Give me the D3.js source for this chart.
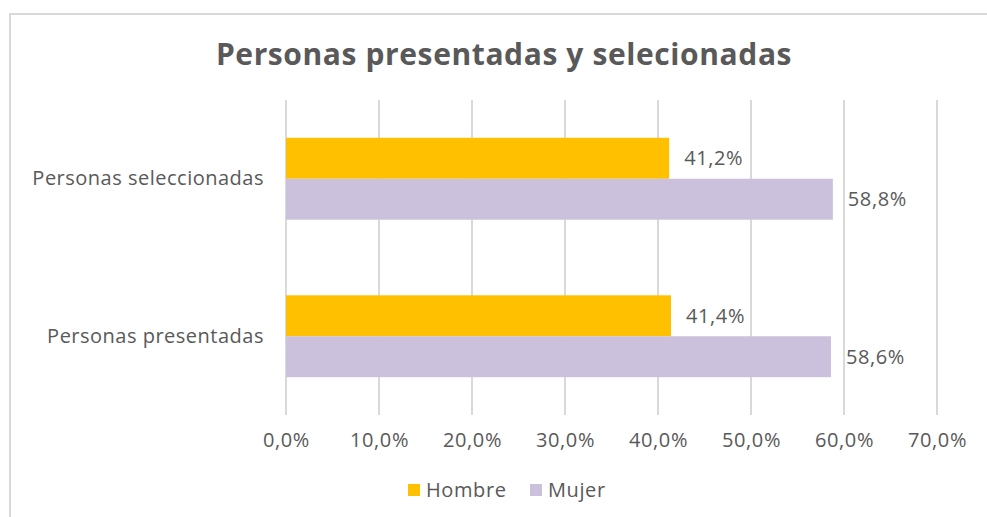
<!DOCTYPE html>
<html>
<head>
<meta charset="utf-8">
<script src="https://cdn.jsdelivr.net/npm/d3@7"></script>
<style>
    body { margin: 0; background: #fff; }
    svg text { font-family: 'Open Sans', sans-serif; }
</style>
</head>
<body>
<svg width="987" height="517"></svg>
<script>
let categories = ['Personas seleccionadas', 'Personas presentadas'];
let seriesNames = ['Hombre', 'Mujer'];
let hombre = [41.2, 41.4];
let mujer = [58.8, 58.6];
let tickValues = [0, 10, 20, 30, 40, 50, 60, 70];

function main() {
    let svg = d3.select('svg'),
        margin = { top: 100, bottom: 102, left: 286, right: 50 },
        width = 937 - margin.left,
        height = 415 - margin.top;

    let data = categories.map((c, i) => ({ cat: c, values: [hombre[i], mujer[i]] }));

    //Scales
    let xScale = d3.scaleLinear().domain([0, 70]).range([margin.left, margin.left + width]),
        yScale = d3.scaleBand().domain(categories).range([margin.top, margin.top + height]).paddingInner(0.48).paddingOuter(0.24),
        subScale = d3.scaleBand().domain(seriesNames).range([0, yScale.bandwidth()]),
        colorScale = d3.scaleOrdinal().domain(seriesNames).range(['#ffc000', '#cbc1dc']);

    let fmt = (v) => d3.format('.1f')(v).replace('.', ',') + '%';

    //Chart border
    svg.append('path')
        .attr('d', 'M10,517 L10,14 L987,14')
        .attr('fill', 'none')
        .attr('stroke', '#d9d9d9')
        .attr('stroke-width', 2);

    //Title
    svg.append('text')
        .attr('text-anchor', 'middle')
        .attr('x', 504)
        .attr('y', 65)
        .style('font-size', '30px')
        .style('font-weight', 'bold')
        .style('letter-spacing', '0.6px')
        .style('fill', '#595959')
        .text('Personas presentadas y selecionadas');

    //Grid lines
    svg.append('g')
        .selectAll('line')
        .data(tickValues)
        .enter()
        .append('line')
        .attr('x1', (d) => xScale(d))
        .attr('x2', (d) => xScale(d))
        .attr('y1', margin.top)
        .attr('y2', margin.top + height)
        .attr('stroke', '#d9d9d9')
        .attr('stroke-width', 2);

    //X axis labels
    let xAxis = svg.append('g')
        .attr('transform', 'translate(0,' + (margin.top + height) + ')')
        .call(d3.axisBottom(xScale).tickValues(tickValues).tickFormat(fmt).tickSize(0).tickPadding(18));
    xAxis.select('.domain').remove();
    xAxis.selectAll('text')
        .style('font-size', '20px')
        .style('letter-spacing', '0.6px')
        .style('fill', '#595959');

    //Y axis labels
    let yAxis = svg.append('g')
        .attr('transform', 'translate(' + margin.left + ',0)')
        .call(d3.axisLeft(yScale).tickSize(0).tickPadding(22));
    yAxis.select('.domain').remove();
    yAxis.selectAll('text')
        .style('font-size', '20px')
        .style('letter-spacing', '0.5px')
        .style('fill', '#595959');

    //Bars
    let groups = svg.append('g')
        .selectAll('g')
        .data(data)
        .enter()
        .append('g')
        .attr('transform', (d) => 'translate(0,' + yScale(d.cat) + ')');

    groups.selectAll('rect')
        .data((d) => d.values.map((v, i) => ({ key: seriesNames[i], value: v })))
        .enter()
        .append('rect')
        .attr('x', xScale(0))
        .attr('y', (d) => subScale(d.key))
        .attr('width', (d) => xScale(d.value) - xScale(0))
        .attr('height', subScale.bandwidth())
        .attr('fill', (d) => colorScale(d.key));

    groups.selectAll('text')
        .data((d) => d.values.map((v, i) => ({ key: seriesNames[i], value: v })))
        .enter()
        .append('text')
        .attr('x', (d) => xScale(d.value) + 15)
        .attr('y', (d) => subScale(d.key) + subScale.bandwidth() / 2)
        .attr('dy', '0.35em')
        .style('font-size', '20px')
        .style('letter-spacing', '0.6px')
        .style('fill', '#595959')
        .text((d) => fmt(d.value));

    //Legend
    let legend = svg.append('g');
    let legendX = [408, 530];
    seriesNames.forEach((s, i) => {
        legend.append('rect')
            .attr('x', legendX[i])
            .attr('y', 484)
            .attr('width', 12)
            .attr('height', 12)
            .attr('fill', colorScale(s));
        legend.append('text')
            .attr('x', legendX[i] + 18)
            .attr('y', 490)
            .attr('dy', '0.35em')
            .style('font-size', '20px')
            .style('letter-spacing', '0.6px')
            .style('fill', '#595959')
            .text(s);
    });
}

main();
</script>
</body>
</html>
